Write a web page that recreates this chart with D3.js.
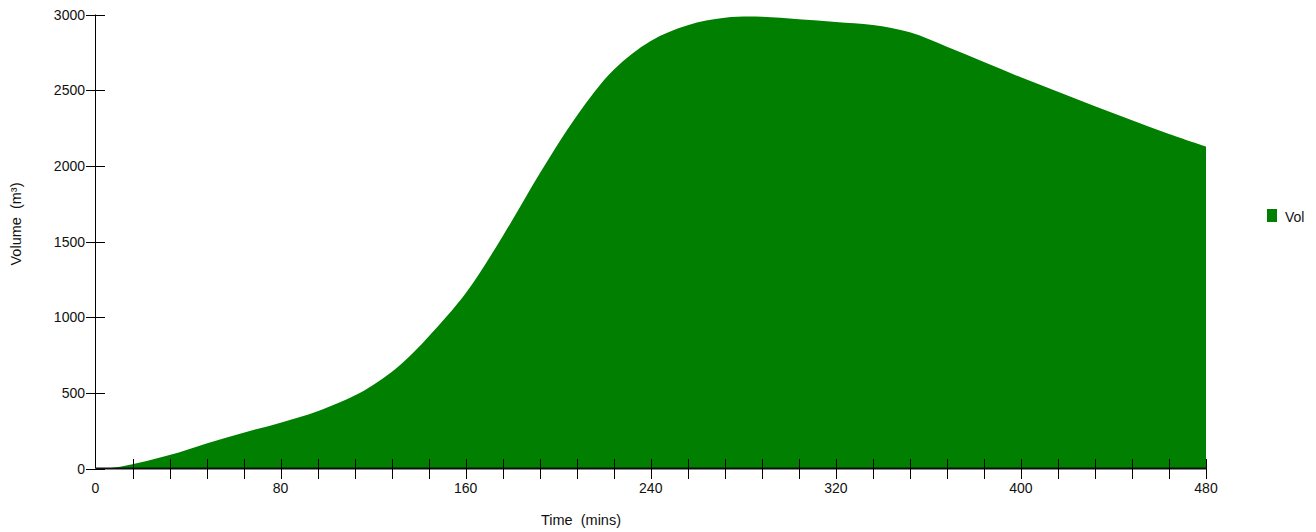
<!DOCTYPE html>
<html>
<head>
<meta charset="utf-8">
<script src="https://cdn.jsdelivr.net/npm/d3@7"></script>
<style>
body{margin:0;background:#fff}
text{font-family:"Liberation Sans",Arial,sans-serif;font-size:14px;fill:#111}
</style>
</head>
<body>
<svg id="graph"></svg>
<script>
// time in minutes, volume in m3
var times=[0,6,16,32,48,64,80,96,112,120,128,136,144,160,176,192,208,224,240,256,272,288,304,320,336,352,368,384,400,416,432,448,464,480]
var volumes=[0,2,28,89,166,237,303,378,482,552,638,745,872,1158,1535,1950,2330,2635,2825,2929,2978,2985,2968,2950,2930,2882,2787,2686,2585,2490,2393,2301,2210,2127]
var xTickLabels=[0,80,160,240,320,400,480]
var yTickLabels=[0,500,1000,1500,2000,2500,3000]
var seriesName="Vol"

var screen={width:1316,height:532}
var svg=d3.select("#graph")
.attr("width",screen.width)
.attr("height",screen.height)

var xScale=d3.scaleLinear()
.domain([0,480])
.range([95.5,1206])

var yScale=d3.scaleLinear()
.domain([0,3000])
.range([468.5,14.5])

var points=times.map(function(t,i){return {t:t,v:volumes[i]}})

var area=d3.area()
.x(function(d){return xScale(d.t)})
.y0(yScale(0))
.y1(function(d){return yScale(d.v)})
.curve(d3.curveCatmullRom.alpha(0.5))

svg.append("path")
.datum(points)
.attr("d",area)
.attr("fill","#007f00")

// y axis, ticks cross the line
var yAxis=svg.append("g")
yAxis.append("line")
.attr("x1",95.5).attr("x2",95.5)
.attr("y1",yScale(3000)).attr("y2",yScale(0))
.attr("stroke","#000")
yAxis.selectAll(".yt")
.data(yTickLabels)
.enter()
.append("line")
.attr("x1",86).attr("x2",105)
.attr("y1",function(d){return Math.round(yScale(d))+0.5})
.attr("y2",function(d){return Math.round(yScale(d))+0.5})
.attr("stroke","#000")
yAxis.selectAll("text")
.data(yTickLabels)
.enter()
.append("text")
.attr("x",85)
.attr("y",function(d){return yScale(d)+5})
.attr("text-anchor","end")
.text(function(d){return d})

// x axis
var xAxis=svg.append("g")
xAxis.append("line")
.attr("x1",xScale(0)).attr("x2",xScale(480))
.attr("y1",468.5).attr("y2",468.5)
.attr("stroke","#111").attr("stroke-width",2)
xAxis.selectAll(".xt")
.data(d3.range(16,481,16))
.enter()
.append("line")
.attr("x1",function(d){return Math.round(xScale(d))+0.5})
.attr("x2",function(d){return Math.round(xScale(d))+0.5})
.attr("y1",459).attr("y2",479)
.attr("stroke","#000")
xAxis.selectAll("text")
.data(xTickLabels)
.enter()
.append("text")
.attr("x",function(d){return xScale(d)})
.attr("y",493)
.attr("text-anchor","middle")
.text(function(d){return d})

svg.append("text")
.attr("x",581)
.attr("y",525)
.attr("text-anchor","middle")
.style("white-space","pre")
.style("font-size","14.5px")
.text("Time  (mins)")

svg.append("text")
.attr("transform","translate(21,224) rotate(-90)")
.attr("text-anchor","middle")
.style("white-space","pre")
.style("font-size","14.5px")
.text("Volume  (m³)")

// legend
svg.append("rect")
.attr("x",1267).attr("y",209)
.attr("width",10).attr("height",13)
.attr("fill","#007f00")
svg.append("text")
.attr("x",1285).attr("y",222)
.text(seriesName)
</script>
</body>
</html>
